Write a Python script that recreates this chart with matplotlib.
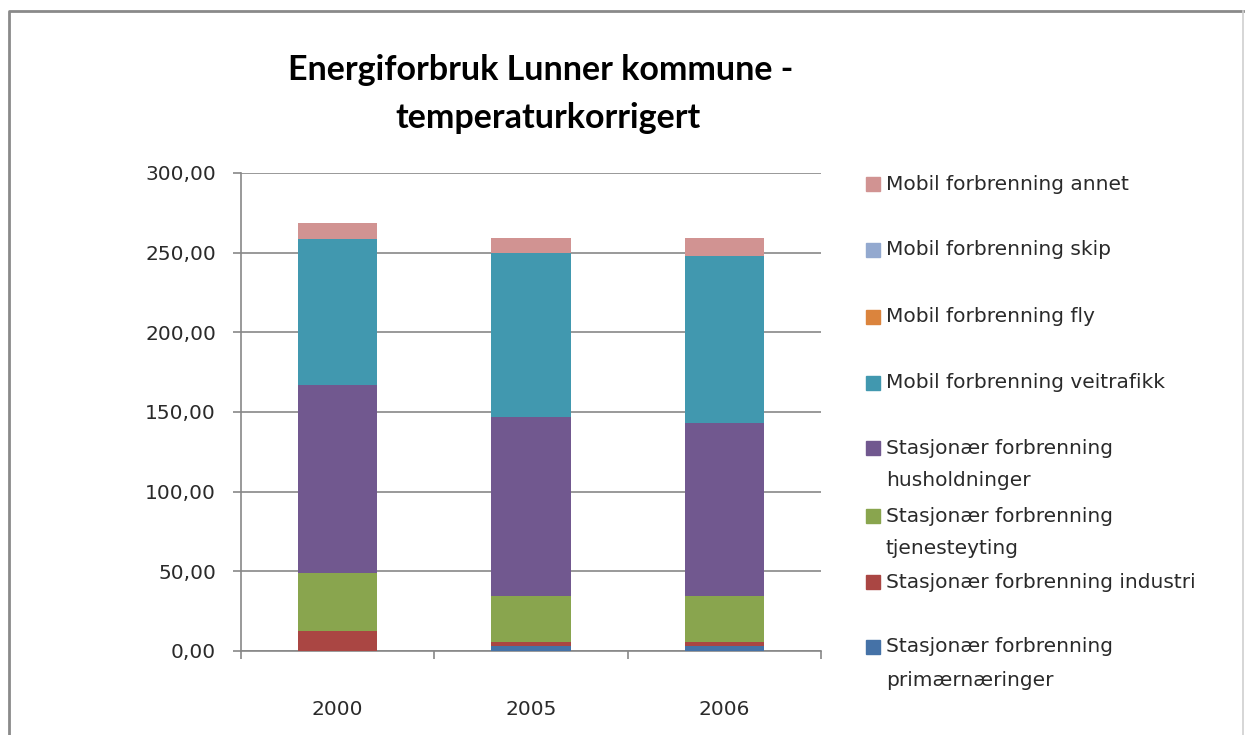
import numpy as np
import matplotlib
matplotlib.use('Agg')
import matplotlib.pyplot as plt
from matplotlib.patches import Rectangle
from matplotlib.lines import Line2D

# datos (GWh)
aar = ['2000', '2005', '2006']
primaer = [0.0, 3.3, 3.3]
industri = [12.5, 2.5, 2.5]
tjenesteyting = [36.4, 28.7, 28.7]
husholdninger = [118.0, 112.5, 108.7]
veitrafikk = [91.6, 102.5, 104.6]
fly = [0.0, 0.0, 0.0]
skip = [0.0, 0.0, 0.0]
annet = [10.2, 10.0, 11.7]

serier = [
    ('Stasjonær forbrenning\nprimærnæringer', primaer, '#4572A7'),
    ('Stasjonær forbrenning industri', industri, '#AA4643'),
    ('Stasjonær forbrenning\ntjenesteyting', tjenesteyting, '#89A54E'),
    ('Stasjonær forbrenning\nhusholdninger', husholdninger, '#71588F'),
    ('Mobil forbrenning veitrafikk', veitrafikk, '#4198AF'),
    ('Mobil forbrenning fly', fly, '#DB843D'),
    ('Mobil forbrenning skip', skip, '#93A9CF'),
    ('Mobil forbrenning annet', annet, '#D19392'),
]

W, H = 1245, 735
fig = plt.figure(figsize=(W / 100, H / 100), dpi=100)
ax = fig.add_axes([241 / W, 1 - 651 / H, 580 / W, 478 / H])

x = np.arange(len(aar))
base = np.zeros(len(aar))
for nombre, vals, color in serier:
    ax.bar(x, vals, 0.41, bottom=base, color=color, edgecolor='none', zorder=3)
    base = base + np.array(vals)

gris = '#878787'
txt = '#2a2a2a'
ax.set_ylim(0, 300)
ax.set_xlim(-0.5, 2.5)
ax.set_yticks(np.arange(0, 301, 50))
ax.set_yticklabels([f'{v:.2f}'.replace('.', ',') for v in np.arange(0, 301, 50)],
                   fontsize=14.5, color=txt, family='DejaVu Sans')
ax.yaxis.grid(True, color=gris, lw=1.2, zorder=0)
ax.set_xticks(x)
ax.set_xticklabels(aar, fontsize=14.5, color=txt, family='DejaVu Sans')
ax.set_xticks(np.arange(-0.5, 3, 1), minor=True)
ax.tick_params(axis='x', which='major', length=0, pad=35)
ax.tick_params(axis='x', which='minor', length=6, width=1.2, color=gris, direction='out')
ax.tick_params(axis='y', length=6, width=1.2, color=gris, pad=12)
for s in ['top', 'right']:
    ax.spines[s].set_visible(False)
for s in ['left', 'bottom']:
    ax.spines[s].set_color(gris)
    ax.spines[s].set_linewidth(1.2)

# titulo
fig.text(541 / W, 1 - 70 / H, 'Energiforbruk Lunner kommune -', ha='center', va='center',
         fontsize=24.5, family='Lato', weight='bold')
fig.text(548 / W, 1 - 118 / H, 'temperaturkorrigert', ha='center', va='center',
         fontsize=24.5, family='Lato', weight='bold')

# leyenda manual, de arriba hacia abajo
ley_y = [184, 250, 317, 383, 448, 516, 582, 647]
for (nombre, vals, color), yy in zip(serier[::-1], ley_y):
    fig.patches.append(Rectangle((866 / W, 1 - (yy + 7) / H), 14 / W, 14 / H,
                                 color=color, transform=fig.transFigure))
    for i, linea in enumerate(nombre.split('\n')):
        fig.text(886 / W, 1 - (yy + 33 * i) / H, linea, ha='left', va='center',
                 fontsize=14.5, family='DejaVu Sans', color=txt)

# marco exterior: izquierda y arriba oscuro, derecha claro
fig.lines.append(Line2D([9 / W, 9 / W, 1243 / W], [0, 1 - 11 / H, 1 - 11 / H],
                        color='#8a8a8a', lw=2, transform=fig.transFigure))
fig.lines.append(Line2D([1243 / W, 1243 / W], [0, 1 - 11 / H],
                        color='#d0d0d0', lw=1.2, transform=fig.transFigure))

fig.savefig('out.png', dpi=100)
